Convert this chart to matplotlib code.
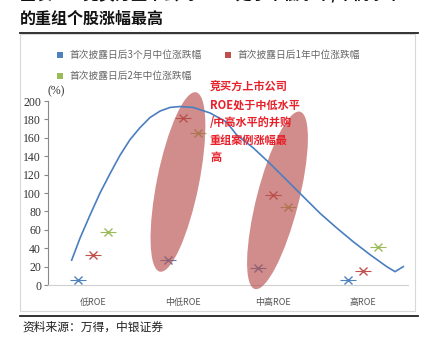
import matplotlib
matplotlib.use("Agg")
import matplotlib.pyplot as plt
from matplotlib.patches import Ellipse, Rectangle
from matplotlib.lines import Line2D
from matplotlib.transforms import Affine2D

plt.rcParams['font.family'] = ['Noto Sans CJK SC', 'DejaVu Sans']

categories = ['低ROE', '中低ROE', '中高ROE', '高ROE']
ret_3m = [5, 27, 18, 5]
ret_1y = [33, 182, 98, 15]
ret_2y = [58, 165, 85, 41]
series_names = ['首次披露日后3个月中位涨跌幅', '首次披露日后1年中位涨跌幅', '首次披露日后2年中位涨跌幅']
series_colors = ['#4F81BD', '#C0504D', '#9BBB59']

# hand-drawn trend curve (x in category units, y in %)
trend_x = [-0.237, -0.144, -0.033, 0.078, 0.189, 0.3, 0.411, 0.522, 0.633, 0.744,
           0.856, 0.967, 1.114, 1.3, 1.486, 1.597, 1.781, 1.967, 2.152, 2.337,
           2.522, 2.708, 2.892, 3.078, 3.263, 3.356, 3.448]
trend_y = [27, 51, 76, 100, 121, 141, 158, 171, 182, 189,
           193, 194, 193, 187, 177, 163, 149, 132, 114, 96,
           78, 62, 47, 33, 20, 14.5, 20]

note = '竞买方上市公司\nROE处于中低水平\n/中高水平的并购\n重组案例涨幅最\n高'

fig = plt.figure(figsize=(4.28, 3.43), dpi=100)

# title, rules and panel frame
fig.text(20 / 428, 1 + 6 / 343, '图表 15: 竞买方上市公司 ROE 处于中低水平/中高水平',
         fontsize=11.5, fontweight='bold', va='center', ha='left', color='#111111')
fig.text(20 / 428, 1 - 19 / 343, '的重组个股涨幅最高',
         fontsize=11.5, fontweight='bold', va='center', ha='left', color='#111111')
fig.add_artist(Line2D([20 / 428, 418 / 428], [1 - 33 / 343] * 2, color='#222222', lw=1.3))
fig.add_artist(Line2D([20 / 428, 418 / 428], [1 - 316 / 343] * 2, color='#222222', lw=1.3))
fig.add_artist(Rectangle((20 / 428, 1 - 311 / 343), 395 / 428, 277 / 343,
                         fill=False, edgecolor='#d8d8d8', lw=0.8))
fig.text(22 / 428, 1 - 327 / 343, '资料来源：万得，中银证券', fontsize=8.5,
         va='center', ha='left', color='#222222')

ax = fig.add_axes([48 / 428, 1 - 285 / 343, 360 / 428, 184 / 343])
ax.set_xlim(-0.5, 3.5)
ax.set_ylim(0, 200)
ax.set_yticks(range(0, 201, 20))
ax.set_yticklabels([str(v) for v in range(0, 201, 20)], family='Liberation Serif',
                   fontsize=8.5, color='#333333')
ax.set_xticks(range(len(categories)))
ax.set_xticklabels(categories, fontsize=6.5, color='#555555')
ax.tick_params(axis='x', length=0, pad=9)
ax.tick_params(axis='y', length=3, width=0.8, color='#888888', pad=2)
for s in ['top', 'right']:
    ax.spines[s].set_visible(False)
ax.spines['left'].set_color('#888888')
ax.spines['bottom'].set_color('#d0d0d0')
ax.spines['left'].set_linewidth(0.8)

offsets = [-0.17, 0.0, 0.17]
for vals, off, c in zip([ret_3m, ret_1y, ret_2y], offsets, series_colors):
    xs = [i + off for i in range(len(categories))]
    ax.plot(xs, vals, linestyle='none', marker='x', ms=6, mew=1.0, color=c, zorder=3)
    ax.plot(xs, vals, linestyle='none', marker='_', ms=12, mew=0.8, color=c, zorder=3)

# highlight ellipses, sized in pixel units (90 px per category, 0.92 px per %)
px = Affine2D().scale(1 / 90, 1 / 0.92) + ax.transData
for cx, cy, ang in [(0.944, 112, 78.6), (2.05, 92, 75.7)]:
    e = Ellipse((cx * 90, cy * 0.92), 183, 42, angle=ang, transform=px,
                facecolor='#B8504D', alpha=0.65, edgecolor='none', zorder=4, clip_on=False)
    ax.add_patch(e)

ax.plot(trend_x, trend_y, color='#4A7EC0', lw=1.2, zorder=5, clip_on=False,
        solid_joinstyle='round')

ax.text(1.3, 200 + 20 / 0.92, note, fontsize=8, fontweight='bold', color='#E8202A',
        va='top', ha='left', linespacing=1.45, zorder=6)
ax.text(0.0, 200 + 4 / 0.92, '(%)', family='Liberation Serif', fontsize=8.5,
        color='#333333', transform=ax.get_yaxis_transform(), ha='left', va='bottom')

# legend drawn by hand in three slots
leg = [(60, 55), (228, 55), (60, 76)]
for (lx, ly), name, c in zip(leg, series_names, series_colors):
    fig.add_artist(Rectangle(((lx - 3) / 428, 1 - (ly + 3) / 343), 6 / 428, 6 / 343,
                             facecolor=c, edgecolor='none'))
    fig.text((lx + 9) / 428, 1 - ly / 343, name, fontsize=7, color='#666666',
             va='center', ha='left')

fig.savefig('out.png', dpi=100)
